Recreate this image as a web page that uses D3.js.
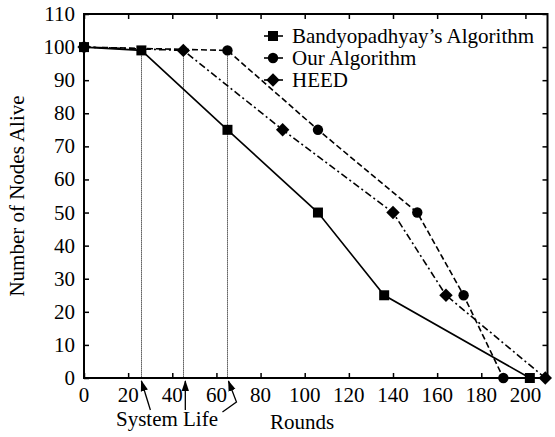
<!DOCTYPE html>
<html><head><meta charset="utf-8">
<script src="https://cdn.jsdelivr.net/npm/d3@7"></script>
<style>body{margin:0;background:#fff}svg{display:block}text{font-family:"Liberation Serif","Times New Roman",serif;fill:#000}</style>
</head><body>
<svg id="c" width="555" height="437"></svg>
<script>
const yValues = [100, 99, 75, 50, 25, 0];
const bandyRounds = [0, 26, 65, 106, 136, 202];
const ourRounds = [0, 65, 106, 151, 172, 190];
const heedRounds = [0, 45, 90, 140, 164, 209];
const seriesNames = ["Bandyopadhyay\u2019s Algorithm", "Our Algorithm", "HEED"];
const systemLife = [26, 45, 65];
const xTicks = [0, 20, 40, 60, 80, 100, 120, 140, 160, 180, 200];
const yTicks = [0, 10, 20, 30, 40, 50, 60, 70, 80, 90, 100, 110];

const svg = d3.select("#c");
const L = 84, R = 547.5, T = 14, B = 378;
const x = d3.scaleLinear().domain([0, 210]).range([L, R]);
const y = d3.scaleLinear().domain([0, 110]).range([B, T]);
const FS = 21;

// dotted system-life lines
svg.selectAll("line.sl").data(systemLife).enter().append("line")
  .attr("x1", d => Math.round(x(d)) + 0.5).attr("x2", d => Math.round(x(d)) + 0.5).attr("y1", y(99)).attr("y2", B)
  .attr("stroke", "#000").attr("stroke-width", 1).attr("stroke-dasharray", "1,1");

// axes with inward ticks
const tickStyle = g => { g.select(".domain").remove(); g.selectAll("line").attr("stroke", "#000").attr("stroke-width", 1.5); g.selectAll("text").remove(); };
svg.append("g").attr("transform", `translate(0,${B})`).call(d3.axisTop(x).tickValues(xTicks).tickSize(5)).call(tickStyle);
svg.append("g").attr("transform", `translate(0,${T})`).call(d3.axisBottom(x).tickValues(xTicks).tickSize(5)).call(tickStyle);
svg.append("g").attr("transform", `translate(${L},0)`).call(d3.axisRight(y).tickValues(yTicks).tickSize(5)).call(tickStyle);
svg.append("g").attr("transform", `translate(${R},0)`).call(d3.axisLeft(y).tickValues(yTicks).tickSize(5)).call(tickStyle);

svg.append("rect").attr("x", L).attr("y", T).attr("width", R - L).attr("height", B - T)
  .attr("fill", "none").attr("stroke", "#000").attr("stroke-width", 2);

// tick labels
svg.selectAll("text.xt").data(xTicks).enter().append("text")
  .attr("x", d => x(d)).attr("y", 402).attr("text-anchor", "middle")
  .attr("font-size", FS).text(d => d);
svg.selectAll("text.yt").data(yTicks).enter().append("text")
  .attr("x", 75).attr("y", d => y(d) + 7).attr("text-anchor", "end")
  .attr("font-size", FS).text(d => d);

// axis titles
svg.append("text").attr("x", 302).attr("y", 429).attr("text-anchor", "middle").attr("font-size", FS).text("Rounds");
svg.append("text").attr("transform", "translate(24,196) rotate(-90)").attr("text-anchor", "middle")
  .attr("font-size", FS).text("Number of Nodes Alive");

// series
const diamond = { draw(ctx, size) { const r = Math.sqrt(size / 2); ctx.moveTo(0, -r); ctx.lineTo(r, 0); ctx.lineTo(0, r); ctx.lineTo(-r, 0); ctx.closePath(); } };
const series = [
  { name: seriesNames[0], xs: bandyRounds, dash: null, sym: d3.symbolSquare, size: 100 },
  { name: seriesNames[1], xs: ourRounds, dash: "6,3", sym: d3.symbolCircle, size: 85 },
  { name: seriesNames[2], xs: heedRounds, dash: "7,3,2,3", sym: diamond, size: 90 }
];
const line = d3.line().x(d => x(d[0])).y(d => y(d[1]));
series.forEach(s => {
  const pts = s.xs.map((v, i) => [v, yValues[i]]);
  svg.append("path").datum(pts).attr("d", line).attr("fill", "none").attr("stroke", "#000")
    .attr("stroke-width", 1.6).attr("stroke-dasharray", s.dash);
  svg.selectAll(null).data(pts).enter().append("path")
    .attr("d", d3.symbol().type(s.sym).size(s.size))
    .attr("transform", d => `translate(${x(d[0])},${y(d[1])})`).attr("fill", "#000");
});

// legend
series.forEach((s, i) => {
  const cy = 36 + i * 22;
  svg.append("line").attr("x1", 264).attr("x2", 283).attr("y1", cy).attr("y2", cy)
    .attr("stroke", "#000").attr("stroke-width", 1.6);
  svg.append("path").attr("d", d3.symbol().type(s.sym).size(s.size))
    .attr("transform", `translate(273,${cy})`).attr("fill", "#000");
  svg.append("text").attr("x", 292).attr("y", cy + 7).attr("font-size", FS).text(s.name);
});

// System Life annotation
svg.append("defs").append("marker").attr("id", "ah").attr("viewBox", "0 0 12 8")
  .attr("refX", 11).attr("refY", 4).attr("markerWidth", 11).attr("markerHeight", 8)
  .attr("markerUnits", "userSpaceOnUse").attr("orient", "auto")
  .append("path").attr("d", "M0,0 L12,4 L0,8 Z").attr("fill", "#000");
const tipY = 381;
const arrows = [
  [[x(systemLife[0]) + 9, 410], [x(systemLife[0]), tipY]],
  [[x(systemLife[1]) + 2, 410], [x(systemLife[1]) + 2, tipY]],
  [[x(systemLife[2]) - 5, 412], [x(systemLife[2]) + 9, 402], [x(systemLife[2]) + 1, tipY]]
];
arrows.forEach(a => {
  svg.append("path").attr("d", d3.line()(a)).attr("fill", "none").attr("stroke", "#000")
    .attr("stroke-width", 1.3).attr("marker-end", "url(#ah)");
});
svg.append("text").attr("x", 167).attr("y", 426).attr("text-anchor", "middle").attr("font-size", FS).text("System Life");
</script>
</body></html>
